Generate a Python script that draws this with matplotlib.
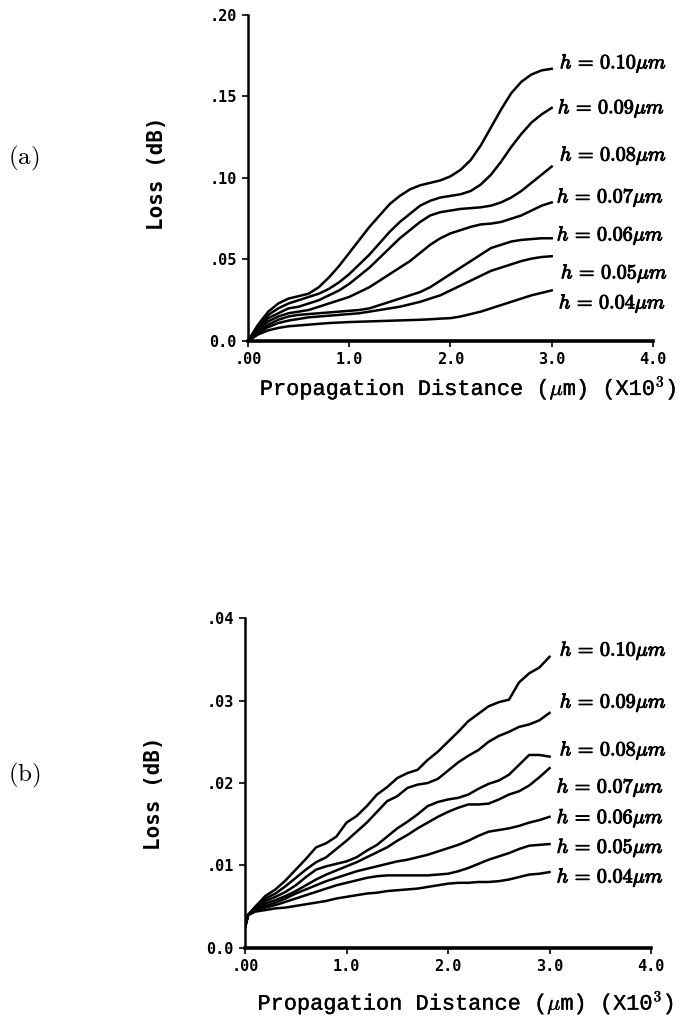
import matplotlib
matplotlib.use("Agg")
from matplotlib import pyplot as plt
import matplotlib.patheffects as pe
import numpy as np

plt.rcParams['mathtext.fontset'] = 'cm'

# propagation distance (x10^3 um)
x_a = [0.0, 0.1, 0.2, 0.3, 0.4, 0.5, 0.6, 0.7, 0.8, 0.9, 1.0, 1.1, 1.2, 1.3, 1.4, 1.5,
       1.6, 1.7, 1.8, 1.9, 2.0, 2.1, 2.2, 2.3, 2.4, 2.5, 2.6, 2.7, 2.8, 2.9, 3.0]
x_b = [0.0, 0.03, 0.1, 0.2, 0.3, 0.4, 0.5, 0.6, 0.7, 0.8, 0.9, 1.0, 1.1, 1.2, 1.3, 1.4,
       1.5, 1.6, 1.7, 1.8, 1.9, 2.0, 2.1, 2.2, 2.3, 2.4, 2.5, 2.6, 2.7, 2.8, 2.9, 3.0]

h_labels = ['0.10', '0.09', '0.08', '0.07', '0.06', '0.05', '0.04']

# panel (a) loss (dB)
loss_a_010 = [0, 0.010, 0.018, 0.023, 0.026, 0.0275, 0.029, 0.033, 0.039, 0.046, 0.054, 0.062,
              0.070, 0.077, 0.084, 0.089, 0.093, 0.0955, 0.097, 0.0985, 0.101, 0.105, 0.111,
              0.120, 0.131, 0.142, 0.152, 0.159, 0.1635, 0.166, 0.167]
loss_a_009 = [0, 0.009, 0.016, 0.020, 0.023, 0.025, 0.027, 0.029, 0.032, 0.036, 0.041, 0.047,
              0.053, 0.060, 0.067, 0.073, 0.078, 0.083, 0.086, 0.088, 0.089, 0.090, 0.092,
              0.096, 0.102, 0.110, 0.119, 0.127, 0.134, 0.139, 0.143]
loss_a_008 = [0, 0.008, 0.014, 0.017, 0.020, 0.021, 0.023, 0.025, 0.028, 0.031, 0.035, 0.040,
              0.045, 0.051, 0.057, 0.063, 0.068, 0.073, 0.077, 0.079, 0.080, 0.081, 0.0815,
              0.082, 0.083, 0.085, 0.088, 0.092, 0.097, 0.102, 0.107]
loss_a_007 = [0, 0.007, 0.012, 0.015, 0.017, 0.018, 0.019, 0.021, 0.023, 0.025, 0.027, 0.030,
              0.033, 0.037, 0.041, 0.045, 0.049, 0.054, 0.059, 0.063, 0.066, 0.068, 0.070,
              0.0715, 0.072, 0.073, 0.075, 0.077, 0.080, 0.083, 0.085]
loss_a_006 = [0, 0.006, 0.010, 0.013, 0.015, 0.016, 0.0165, 0.017, 0.0175, 0.018, 0.0185, 0.019,
              0.020, 0.022, 0.024, 0.026, 0.028, 0.030, 0.033, 0.037, 0.041, 0.045, 0.049,
              0.053, 0.057, 0.059, 0.061, 0.062, 0.0625, 0.063, 0.063]
loss_a_005 = [0, 0.005, 0.0085, 0.011, 0.0125, 0.0135, 0.0145, 0.015, 0.0155, 0.016, 0.0165,
              0.017, 0.018, 0.019, 0.020, 0.021, 0.0225, 0.024, 0.026, 0.028, 0.031, 0.034,
              0.037, 0.040, 0.043, 0.045, 0.047, 0.049, 0.0505, 0.0515, 0.052]
loss_a_004 = [0, 0.004, 0.0065, 0.008, 0.009, 0.0095, 0.010, 0.0105, 0.011, 0.0113, 0.0116,
              0.0118, 0.012, 0.0122, 0.0124, 0.0126, 0.0128, 0.013, 0.0133, 0.0137, 0.014,
              0.015, 0.0165, 0.018, 0.020, 0.022, 0.024, 0.026, 0.028, 0.0295, 0.031]

# panel (b) loss (dB)
loss_b_010 = [0.0025, 0.0040, 0.0050, 0.0063, 0.0071, 0.0082, 0.0095, 0.0108, 0.0122, 0.0127,
              0.0135, 0.0152, 0.0160, 0.0172, 0.0186, 0.0195, 0.0206, 0.0212, 0.0216, 0.0228,
              0.0238, 0.0250, 0.0262, 0.0275, 0.0284, 0.0293, 0.0298, 0.0301, 0.0322, 0.0333,
              0.0340, 0.0353]
loss_b_009 = [0.0025, 0.0040, 0.0049, 0.0060, 0.0066, 0.0075, 0.0085, 0.0095, 0.0104, 0.0110,
              0.0120, 0.0130, 0.0141, 0.0152, 0.0165, 0.0178, 0.0184, 0.0194, 0.0198, 0.0200,
              0.0205, 0.0215, 0.0225, 0.0233, 0.0240, 0.0250, 0.0257, 0.0262, 0.0268, 0.0271,
              0.0276, 0.0285]
loss_b_008 = [0.0025, 0.0040, 0.0048, 0.0057, 0.0062, 0.0068, 0.0076, 0.0086, 0.0095, 0.0099,
              0.0102, 0.0105, 0.0110, 0.0118, 0.0125, 0.0135, 0.0145, 0.0153, 0.0162, 0.0172,
              0.0177, 0.0180, 0.0182, 0.0186, 0.0193, 0.0199, 0.0203, 0.0210, 0.0222, 0.0234,
              0.0234, 0.0232]
loss_b_007 = [0.0025, 0.0040, 0.0047, 0.0054, 0.0058, 0.0063, 0.0069, 0.0076, 0.0083, 0.0089,
              0.0094, 0.0099, 0.0104, 0.0110, 0.0116, 0.0122, 0.0130, 0.0137, 0.0145, 0.0152,
              0.0159, 0.0165, 0.0170, 0.0174, 0.0174, 0.0175, 0.0180, 0.0186, 0.0190, 0.0197,
              0.0207, 0.0218]
loss_b_006 = [0.0025, 0.0040, 0.0046, 0.0051, 0.0055, 0.0060, 0.0066, 0.0071, 0.0076, 0.0081,
              0.0085, 0.0089, 0.0093, 0.0096, 0.0099, 0.0102, 0.0105, 0.0107, 0.0110, 0.0113,
              0.0117, 0.0121, 0.0125, 0.0130, 0.0136, 0.0141, 0.0143, 0.0145, 0.0148, 0.0152,
              0.0155, 0.0159]
loss_b_005 = [0.0025, 0.0040, 0.0045, 0.0049, 0.0052, 0.0056, 0.0060, 0.0064, 0.0068, 0.0072,
              0.0076, 0.0079, 0.0082, 0.0085, 0.0087, 0.0088, 0.0088, 0.0088, 0.0088, 0.0088,
              0.0089, 0.0090, 0.0093, 0.0097, 0.0102, 0.0107, 0.0111, 0.0115, 0.0120, 0.0124,
              0.0125, 0.0126]
loss_b_004 = [0.0025, 0.0040, 0.0044, 0.0046, 0.0048, 0.0049, 0.0051, 0.0053, 0.0055, 0.0057,
              0.0060, 0.0062, 0.0064, 0.0066, 0.0067, 0.0069, 0.0070, 0.0071, 0.0072, 0.0074,
              0.0076, 0.0078, 0.0079, 0.0079, 0.0080, 0.0080, 0.0081, 0.0083, 0.0086, 0.0089,
              0.0090, 0.0092]

loss_a = [loss_a_010, loss_a_009, loss_a_008, loss_a_007, loss_a_006, loss_a_005, loss_a_004]
loss_b = [loss_b_010, loss_b_009, loss_b_008, loss_b_007, loss_b_006, loss_b_005, loss_b_004]

# label anchor points (data coords)
lab_a_x = [3.08, 3.06, 3.08, 3.05, 3.05, 3.09, 3.07]
lab_a_y = [0.1706, 0.143, 0.114, 0.0883, 0.065, 0.0417, 0.0233]
lab_b_x = [3.10, 3.10, 3.10, 3.07, 3.07, 3.07, 3.07]
lab_b_y = [0.0361, 0.0298, 0.0240, 0.0195, 0.0158, 0.0122, 0.0086]

xticks = [0, 1, 2, 3, 4]
xticklabels = ['.00', '1.0', '2.0', '3.0', '4.0']
yticks_a = [0, 0.05, 0.10, 0.15, 0.20]
yticklabels_a = ['0.0', '.05', '.10', '.15', '.20']
yticks_b = [0, 0.01, 0.02, 0.03, 0.04]
yticklabels_b = ['0.0', '.01', '.02', '.03', '.04']

fig = plt.figure(figsize=(6.85, 10.19), dpi=100)
ax_a = fig.add_axes([0.3620, 0.6654, 0.5912, 0.3199])
ax_b = fig.add_axes([0.3577, 0.0697, 0.5927, 0.3238])

tick_font = {'family': 'DejaVu Sans Mono', 'weight': 'bold', 'size': 11}
bold = [pe.withStroke(linewidth=0.7, foreground='black')]
thin = [pe.withStroke(linewidth=0.25, foreground='black')]


def setup(ax, series, xs, yticks, yticklabels, lab_x, lab_y, ylim, ylab_y, xlab_y):
    for ys in series:
        ax.plot(xs, ys, color='black', lw=1.8, solid_joinstyle='round')
    ax.set_xlim(0, 4)
    ax.set_ylim(0, ylim)
    ax.spines['top'].set_visible(False)
    ax.spines['right'].set_visible(False)
    ax.spines['bottom'].set_linewidth(2.6)
    ax.spines['left'].set_linewidth(1.8)
    ax.set_xticks(xticks)
    ax.set_xticklabels(xticklabels, fontdict=tick_font)
    ax.set_yticks(yticks)
    ax.set_yticklabels(yticklabels, fontdict=tick_font)
    ax.tick_params(direction='out', length=4, width=1.2, pad=4)
    for lx, ly, h in zip(lab_x, lab_y, h_labels):
        ax.text(lx, ly, r'$h\,=\,%s\mu m$' % h, fontsize=14.5, ha='left', va='center',
                clip_on=False, path_effects=bold)
    ax.set_ylabel('Loss (dB)', fontsize=15, fontweight='bold', family='DejaVu Sans Mono')
    ax.yaxis.set_label_coords(-0.20, ylab_y)
    ax.set_xlabel(r'Propagation Distance ($\mu$m) (X10$^{3}$)', fontsize=15.8,
                  family='Liberation Mono', path_effects=thin)
    ax.xaxis.set_label_coords(0.545, xlab_y)


setup(ax_a, loss_a, x_a, yticks_a, yticklabels_a, lab_a_x, lab_a_y, 0.2, 0.515, -0.100)
setup(ax_b, loss_b, x_b, yticks_b, yticklabels_b, lab_b_x, lab_b_y, 0.04, 0.47, -0.122)

fig.text(24 / 685, 1 - 158 / 1019, r'$\mathrm{(a)}$', fontsize=18, ha='center', va='center')
fig.text(24 / 685, 1 - 775 / 1019, r'$\mathrm{(b)}$', fontsize=18, ha='center', va='center')

fig.savefig('out.png', dpi=100)
